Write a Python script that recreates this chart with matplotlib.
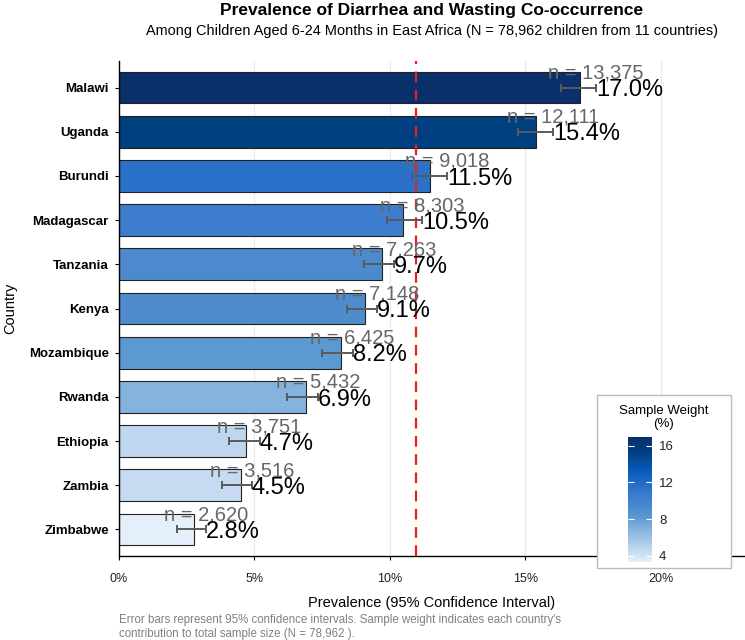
import matplotlib
matplotlib.use("Agg")
import matplotlib.pyplot as plt
import numpy as np
from matplotlib.colors import LinearSegmentedColormap, Normalize
from matplotlib.patches import Rectangle
import matplotlib.colorbar as mcolorbar

plt.rcParams['font.family'] = ['Liberation Sans', 'DejaVu Sans']

# ---- data ----
countries = ["Malawi", "Uganda", "Burundi", "Madagascar", "Tanzania", "Kenya",
             "Mozambique", "Rwanda", "Ethiopia", "Zambia", "Zimbabwe"]
prevalence = [17.0, 15.4, 11.5, 10.5, 9.7, 9.1, 8.2, 6.9, 4.7, 4.5, 2.8]
ci_lower = [16.33, 14.74, 10.82, 9.90, 9.04, 8.42, 7.50, 6.23, 4.08, 3.81, 2.17]
ci_upper = [17.61, 16.03, 12.11, 11.20, 10.17, 9.53, 8.63, 7.35, 5.20, 4.92, 3.23]
sample_n = [13375, 12111, 9018, 8303, 7263, 7148, 6425, 5432, 3751, 3516, 2620]
overall_prevalence = 10.98
x_ticks = [0, 5, 10, 15, 20]
x_ticklabels = ["0%", "5%", "10%", "15%", "20%"]
legend_ticks = [4, 8, 12, 16]

total_n = sum(sample_n)
weights = [n / total_n * 100 for n in sample_n]

# ---- colours ----
cmap = LinearSegmentedColormap.from_list("sw", [
    (0.00, "#e4effb"), (0.09, "#c3d9f0"), (0.26, "#84b3dd"), (0.35, "#5c9bd1"),
    (0.43, "#4d8acd"), (0.53, "#3e7dcd"), (0.60, "#2b70c9"), (0.72, "#0b5bbd"),
    (0.88, "#003f80"), (1.00, "#09306a")])
norm = Normalize(vmin=min(weights), vmax=max(weights))

W, H = 745, 640
fig = plt.figure(figsize=(W / 100, H / 100), dpi=100)
fig.patch.set_facecolor("white")

def fx(px):
    return px / W

def fy(py):
    return 1 - py / H

left, right, top, bottom = 118.5, 745, 61, 556
ax = fig.add_axes([fx(left), fy(bottom), fx(right - left), (bottom - top) / H])

ypos = np.arange(len(countries))
colors = [cmap(norm(w)) for w in weights]
ax.barh(ypos, prevalence, height=0.72, color=colors, edgecolor="#222222",
        linewidth=0.8, zorder=2)
ax.axvline(overall_prevalence, color="#e8201c", linestyle=(0, (4.8, 3.4)),
           linewidth=1.6, zorder=3)
err_lo = np.array(prevalence) - np.array(ci_lower)
err_hi = np.array(ci_upper) - np.array(prevalence)
ax.errorbar(prevalence, ypos, xerr=[err_lo, err_hi], fmt="none",
            ecolor="#5a5a5a", elinewidth=1.4, capsize=2.6, capthick=1.4, zorder=4)

for i in range(len(countries)):
    ax.text(ci_upper[i], ypos[i] - 0.33, f"n = {sample_n[i]:,}", ha="center",
            va="center", fontsize=14.5, color="#666666", zorder=5)
    ax.text(ci_upper[i], ypos[i] + 0.06, f"{prevalence[i]:.1f}%", ha="left",
            va="center", fontsize=17, color="black", zorder=6)

ax.set_xlim(0, 23.1)
ax.set_ylim(len(countries) - 0.4, -0.6)
ax.set_xticks(x_ticks)
ax.set_xticklabels(x_ticklabels)
ax.set_yticks(ypos)
ax.set_yticklabels(countries, fontweight="bold")
ax.tick_params(axis="y", length=3, width=0.8, pad=4, labelsize=9.5, labelcolor="black")
ax.tick_params(axis="x", length=3, width=0.8, pad=9, labelsize=9, labelcolor="#222222")
ax.grid(axis="x", color="#ebebeb", linewidth=0.9, zorder=0)
ax.set_axisbelow(True)
for s in ["top", "right"]:
    ax.spines[s].set_visible(False)
for s in ["left", "bottom"]:
    ax.spines[s].set_linewidth(1.0)
    ax.spines[s].set_color("black")

ax.set_xlabel("Prevalence (95% Confidence Interval)", fontsize=10.5, labelpad=8)
ax.set_ylabel("Country", fontsize=10.5, labelpad=8)

fig.text(fx(431.5), fy(10), "Prevalence of Diarrhea and Wasting Co-occurrence",
         ha="center", va="center", fontsize=12.5, fontweight="bold")
fig.text(fx(431.5), fy(31), "Among Children Aged 6-24 Months in East Africa (N = 78,962 children from 11 countries)",
         ha="center", va="center", fontsize=10.45)
fig.text(fx(119), fy(620), "Error bars represent 95% confidence intervals. Sample weight indicates each country's",
         ha="left", va="center", fontsize=8.3, color="#808080")
fig.text(fx(119), fy(633.5), f"contribution to total sample size (N = {total_n:,} ).",
         ha="left", va="center", fontsize=8.3, color="#808080")

# ---- legend ----
box = Rectangle((fx(597), fy(568)), fx(731 - 597), (568 - 395) / H,
                transform=fig.transFigure, facecolor="white", edgecolor="#bbbbbb",
                linewidth=1.0, zorder=5)
fig.patches.append(box)
fig.text(fx(664), fy(417.5), "Sample Weight\n(%)", ha="center", va="center",
         fontsize=9.5, linespacing=1.2, zorder=6)
cax = fig.add_axes([fx(628), fy(562), fx(24), 125 / H])
cax.set_zorder(6)
cb = mcolorbar.ColorbarBase(cax, cmap=cmap, norm=norm, orientation="vertical")
cb.outline.set_visible(False)
cb.set_ticks(legend_ticks)
cb.set_ticklabels([str(t) for t in legend_ticks])
cax.tick_params(axis="y", direction="in", color="white", length=4, width=0.8,
                left=True, right=True, labelleft=False, labelright=True,
                labelsize=9.5, pad=5, labelcolor="#222222")

fig.savefig("out.png", dpi=100)
